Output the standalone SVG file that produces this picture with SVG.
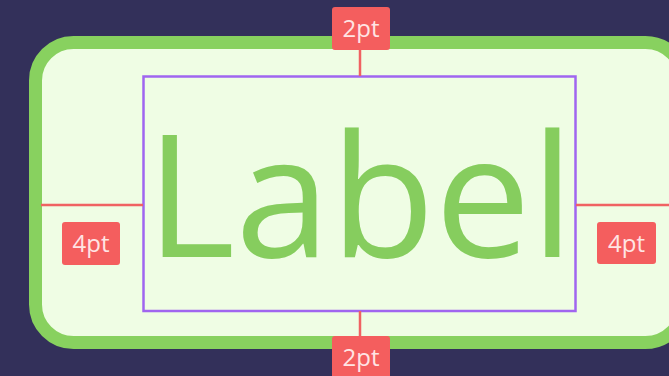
<svg xmlns="http://www.w3.org/2000/svg" width="669" height="376" viewBox="0 0 669 376">
  <style>
    .guide { stroke: #f06262; stroke-width: 2.5; fill: none; }
    .tag rect { fill: #f45e5e; }
    .tag text { fill: #ffe4e4; font-family: "Open Sans", "Noto Sans", sans-serif; font-size: 24px; text-anchor: middle; }
  </style>
  <!-- backdrop -->
  <rect x="0" y="0" width="669" height="376" fill="#33305a"/>

  <!-- button container -->
  <g id="container">
    <rect x="35.5" y="42.5" width="648" height="300" rx="38" ry="38" fill="#effde4" stroke="#88d15f" stroke-width="13"/>
  </g>

  <!-- label content bounds -->
  <g id="content">
    <rect x="143.5" y="76.5" width="432" height="234.5" fill="none" stroke="#a065ef" stroke-width="2.5"/>
    <text x="360" y="257" font-family="'Open Sans', 'Noto Sans', sans-serif" font-size="171" fill="#86cd5e" text-anchor="middle">Label</text>
  </g>

  <!-- padding guides -->
  <g id="connectors">
    <line class="guide" x1="360" y1="50" x2="360" y2="76"/>
    <line class="guide" x1="360" y1="311" x2="360" y2="336"/>
    <line class="guide" x1="41" y1="205" x2="143" y2="205"/>
    <line class="guide" x1="576" y1="205" x2="669" y2="205"/>
  </g>

  <g id="pad-top" class="tag">
    <rect x="332" y="7" width="58" height="43" rx="3"/>
    <text x="361" y="37">2pt</text>
  </g>
  <g id="pad-bottom" class="tag">
    <rect x="332" y="336" width="58" height="43" rx="3"/>
    <text x="361" y="366">2pt</text>
  </g>
  <g id="pad-left" class="tag">
    <rect x="62" y="222" width="58" height="43" rx="3"/>
    <text x="91" y="252">4pt</text>
  </g>
  <g id="pad-right" class="tag">
    <rect x="597" y="222" width="59" height="42" rx="3"/>
    <text x="626.5" y="252">4pt</text>
  </g>
</svg>
